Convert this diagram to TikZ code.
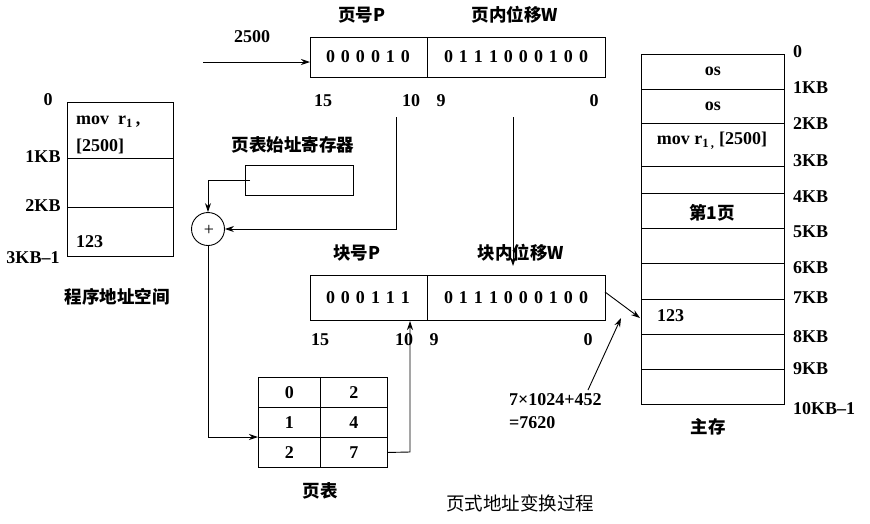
\documentclass[tikz,border=0pt]{standalone}
\usepackage{fontspec}
\setmainfont{Liberation Serif}
\newfontfamily\cjk{Noto Sans CJK SC}
\usetikzlibrary{arrows.meta}
\begin{document}
\begin{tikzpicture}[x=1pt,y=-1pt,
  box/.style={draw,line width=0.9pt},
  ln/.style={line width=0.9pt},
  arr/.style={line width=0.9pt,-{Stealth[length=9pt,width=6pt]}},
  t/.style={font=\bfseries\fontsize{18}{20}\selectfont,inner sep=1pt},
  c/.style={font=\cjk\bfseries\fontsize{17.5}{20}\selectfont,inner sep=1pt}]
\useasboundingbox (0,0) rectangle (870,523);
% top register
\node[box,minimum width=117,minimum height=40,inner sep=0,anchor=north west] (pg) at (310,37) {};
\node[box,minimum width=178,minimum height=40,inner sep=0,anchor=north west] (off) at (427,37) {};
\node[t] (pgv) at (368,57) {0\,\,0\,\,0\,\,0\,\,1\,\,0};
\node[t] (offv) at (516,57) {0\,\,1\,\,1\,\,1\,\,0\,\,0\,\,0\,\,1\,\,0\,\,0};
\node[c] (pgl) at (362,15) {页号P};
\node[c] (offl) at (515,15) {页内位移W};
\node[t] (a15) at (323,101) {15};
\node[t] (a10) at (411,101) {10};
\node[t] (a9) at (441,101) {9};
\node[t] (a0) at (594,101) {0};
\node[t] (v2500) at (252,37) {2500};
\coordinate (in) at (203,62);
\draw[arr] (in) -- (pg.west |- in);
% program space
\node[box,minimum width=106,minimum height=56,inner sep=0,anchor=north west] (p0) at (67,102) {};
\node[box,minimum width=106,minimum height=49,inner sep=0,anchor=north west] (p1) at (67,158) {};
\node[box,minimum width=106,minimum height=49,inner sep=0,anchor=north west] (p2) at (67,207) {};
\node[t,anchor=west] (m1) at (75,122) {mov\ \ r\textsubscript{1}\,,};
\node[t,anchor=west] (m2) at (75,146) {[2500]};
\node[t,anchor=west] (m3) at (75,242) {123};
\node[t] (l0) at (48,100) {0};
\node[t] (l1) at (43,157) {1KB};
\node[t] (l2) at (43,206) {2KB};
\node[t] (l3) at (33,258) {3KB--1};
\node[c] (pl) at (117,297) {程序地址空间};
% page table register
\node[box,minimum width=108,minimum height=30,inner sep=0,anchor=north west] (ptr) at (245,165) {};
\node[c] (ptrl) at (293,145) {页表始址寄存器};
\node[draw,circle,minimum size=33,inner sep=0,line width=0.9pt] (sum) at (208,229) {};
\node[font=\fontsize{18}{20}\selectfont,inner sep=0] (plus) at (209,230) {+};
\coordinate (r1) at (250,180);
\draw[arr] (r1) -| (sum.north);
\coordinate (k1) at (396,117);
\draw[arr] (k1) |- (sum.east);
% block register
\node[box,minimum width=117,minimum height=45,inner sep=0,anchor=north west] (bk) at (310,275) {};
\node[box,minimum width=178,minimum height=45,inner sep=0,anchor=north west] (boff) at (427,275) {};
\node[t] (bkv) at (368,298) {0\,\,0\,\,0\,\,1\,\,1\,\,1};
\node[t] (boffv) at (516,298) {0\,\,1\,\,1\,\,1\,\,0\,\,0\,\,0\,\,1\,\,0\,\,0};
\node[c] (bkl) at (357,253) {块号P};
\node[c] (boffl) at (521,253) {块内位移W};
\node[t] (b15) at (320,340) {15};
\node[t] (b10) at (404,340) {10};
\node[t] (b9) at (434,340) {9};
\node[t] (b0) at (588,340) {0};
\coordinate (k2) at (513,117);
\draw[arr] (k2) -- (513,266);
% page table
\node[box,minimum width=62,minimum height=30,inner sep=0,anchor=north west] (t00) at (258,377) {};
\node[box,minimum width=67,minimum height=30,inner sep=0,anchor=north west] (t01) at (320,377) {};
\node[box,minimum width=62,minimum height=30,inner sep=0,anchor=north west] (t10) at (258,407) {};
\node[box,minimum width=67,minimum height=30,inner sep=0,anchor=north west] (t11) at (320,407) {};
\node[box,minimum width=62,minimum height=30,inner sep=0,anchor=north west] (t20) at (258,437) {};
\node[box,minimum width=67,minimum height=30,inner sep=0,anchor=north west] (t21) at (320,437) {};
\node[t] at (t00) {0}; \node[t] at (t01) {2};
\node[t] at (t10) {1}; \node[t] at (t11) {4};
\node[t] at (t20) {2}; \node[t] at (t21) {7};
\node[c] (ptl) at (320,491) {页表};
\draw[arr] (sum.south) |- (258,437);
\draw[arr] (t21.east) -- (410,452) -- (410,321);
% memory
\foreach \ya/\yb/\n in {53.5/89/r0,89/123/r1m,123/166/r2,166/193/r3,193/228/r4,228/263/r5,263/299/r6,299/334/r7,334/369/r8,369/404/r9}
  \node[box,minimum width=143,minimum height=\yb-\ya,inner sep=0,anchor=north west] (\n) at (641,\ya) {};
\node[t] at (r0) {os};
\node[t] at (r1m) {os};
\node[t] at (712,141) {mov r\textsubscript{1\,,} [2500]};
\node[c] at (712,213) {第1页};
\node[t,anchor=west] at (656,316) {123};
\foreach \y/\s in {52/0,88/1KB,124/2KB,161/3KB,197/4KB,232/5KB,268/6KB,298/7KB,337/8KB,369/9KB,409/10KB--1}
  \node[t,anchor=west] at (792,\y) {\s};
\node[c] (ml) at (708,427) {主存};
\coordinate (e1) at (605,292);
\draw[arr] (e1) -- (640,318);
\node[t,anchor=west] (calc1) at (508,400) {7\texttimes 1024+452};
\node[t,anchor=west] (calc2) at (508,423) {=7620};
\draw[arr] (588,390) -- (621,318);
\node[font=\cjk\fontsize{18.5}{20}\selectfont] (cap) at (520,503) {页式地址变换过程};
\end{tikzpicture}
\end{document}
